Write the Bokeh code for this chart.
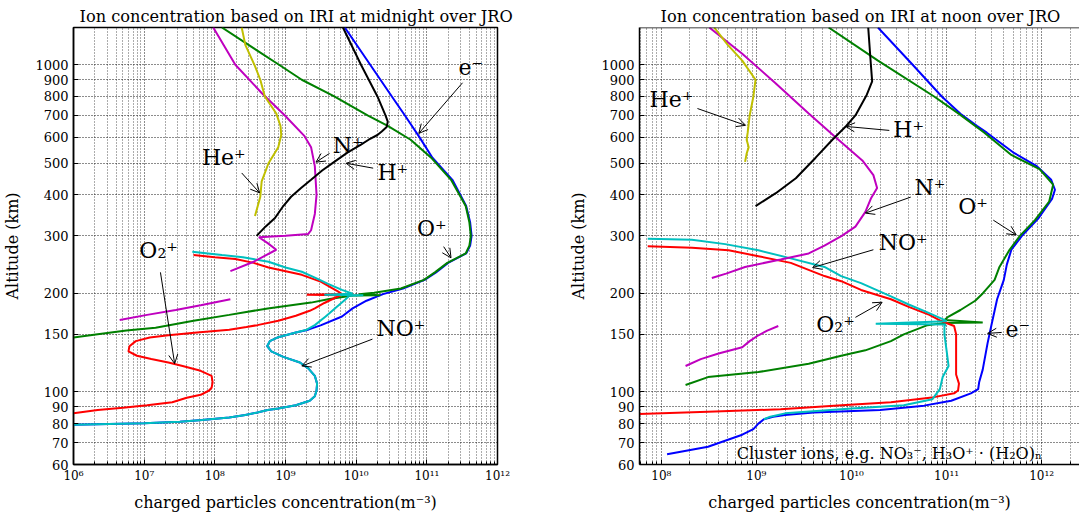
from bokeh.plotting import figure
from bokeh.layouts import row
from bokeh.models import (Range1d, FixedTicker, PrintfTickFormatter, CustomJSTickFormatter,
                          Label, Arrow, OpenHead, Span)
from bokeh.embed import file_html
from bokeh.resources import INLINE

SERIF = "DejaVu Serif"

# ---------------------------------------------------------------- axes ticks
alt_ticks = [60, 70, 80, 90, 100, 150, 200, 300, 400, 500, 600, 700, 800, 900, 1000]
decade_ticks = [1e5, 1e6, 1e7, 1e8, 1e9, 1e10, 1e11, 1e12, 1e13]
minor_ticks = [k * d for d in decade_ticks for k in range(2, 10)]

# ---------------------------------------------------------------- midnight profiles (m^-3 vs km)
mid_e_alt = [1300, 1000, 800, 700, 600, 520, 445, 370, 330, 300, 280, 265, 248, 232, 220, 207,
             199, 190, 180, 170, 160, 155, 152, 147, 143, 138, 133, 128, 123, 118, 112, 106,
             101, 97, 94, 91, 89, 88, 86.5, 85, 83.5, 82, 81, 80.2, 79.8, 79.4]
mid_e_n = [6.9e9, 1.58e10, 3.2e10, 4.9e10, 7.9e10, 1.2e11, 2.3e11, 3.6e11, 4.1e11, 4.3e11,
           4.1e11, 3.6e11, 2.0e11, 1.35e11, 9.3e10, 4.6e10, 2.4e10, 1.4e10, 8.9e9, 6.3e9,
           3.2e9, 2.1e9, 1.4e9, 7.9e8, 6.0e8, 5.5e8, 6.3e8, 9.3e8, 1.6e9, 2.1e9, 2.6e9,
           2.8e9, 2.75e9, 2.6e9, 2.2e9, 1.4e9, 7.9e8, 5.6e8, 4.0e8, 2.7e8, 1.6e8, 6.6e7,
           3.2e7, 1.0e7, 3.2e6, 1.0e6]

mid_op_alt = [1300, 1000, 900, 800, 700, 650, 590, 520, 445, 370, 330, 300, 280, 265, 248, 232,
              220, 207, 201, 199, 197.6, 197, 192, 187.5, 180, 172, 165, 157, 154, 150, 146.6]
mid_op_n = [1.26e8, 8.1e8, 1.7e9, 4.9e9, 1.45e10, 2.8e10, 5.9e10, 1.15e11, 2.2e11, 3.55e11,
            4.0e11, 4.2e11, 4.0e11, 3.55e11, 1.95e11, 1.3e11, 9.1e10, 4.3e10, 1.8e10, 1.1e10,
            2.2e10, 8.9e9, 4.0e9, 2.3e9, 5.6e8, 1.6e8, 5.0e7, 1.45e7, 5.6e6, 2.2e6, 1.0e6]

mid_o2p_alt = [262, 258, 255, 248, 240, 228, 217, 208, 203, 199.2, 198.3, 197.5, 193, 187, 180,
               177, 171, 165, 160, 158, 155, 152, 149, 146.6, 143, 138, 133, 129, 126, 123,
               120, 116, 112, 107, 103, 101, 98, 96, 93, 91, 89.5, 88, 86]
mid_o2p_n = [5.0e7, 1.0e8, 1.95e8, 3.55e8, 5.75e8, 1.7e9, 3.2e9, 4.5e9, 5.5e9, 6.3e9, 2.0e9,
             6.0e9, 4.8e9, 3.55e9, 2.6e9, 2.2e9, 1.4e9, 7.9e8, 4.0e8, 2.8e8, 1.6e8, 5.6e7,
             2.2e7, 1.2e7, 7.6e6, 6.2e6, 6.0e6, 7.9e6, 1.26e7, 2.2e7, 3.5e7, 6.3e7, 9.0e7,
             9.3e7, 9.0e7, 8.3e7, 6.3e7, 4.0e7, 2.5e7, 1.1e7, 5.0e6, 2.2e6, 1.0e6]

mid_nop_alt = [268, 262, 258, 250, 240, 233, 222, 214, 205, 199.5, 198.2, 197.4, 196.5, 192,
               180, 170, 160, 155, 152, 147, 143, 138, 133, 128, 123, 118, 112, 106, 101, 97,
               94, 91, 89, 88, 86.5, 85, 83.5, 82, 81, 80.2, 79.8, 79.4]
mid_nop_n = [4.8e7, 1.26e8, 2.5e8, 5.75e8, 1.0e9, 1.7e9, 2.8e9, 4.0e9, 6.3e9, 8.9e9, 3.55e9,
             1.26e10, 7.9e9, 7.1e9, 5.0e9, 3.7e9, 2.6e9, 2.0e9, 1.4e9, 7.9e8, 6.0e8, 5.5e8,
             6.3e8, 9.3e8, 1.6e9, 2.1e9, 2.6e9, 2.8e9, 2.75e9, 2.6e9, 2.2e9, 1.4e9, 7.9e8,
             5.6e8, 4.0e8, 2.7e8, 1.6e8, 6.6e7, 3.2e7, 1.0e7, 3.2e6, 1.0e6]

mid_np_alt = [1300, 1000, 820, 700, 605, 560, 490, 400, 350, 312, 304, 300, 297, 285, 272, 250, 234]
mid_np_n = [9.5e7, 1.95e8, 4.6e8, 9.8e8, 1.86e9, 2.3e9, 2.6e9, 2.75e9, 2.6e9, 2.3e9, 2.1e9,
            1.0e9, 4.2e8, 5.6e8, 7.4e8, 3.55e8, 1.66e8]
mid_np_low_alt = [166, 172, 178, 184, 192]
mid_np_low_n = [4.5e6, 1.1e7, 2.8e7, 6.3e7, 1.66e8]

mid_hp_alt = [1300, 1000, 800, 700, 670, 645, 625, 610, 590, 570, 540, 505, 475, 445, 420,
              395, 370, 340, 320, 300]
mid_hp_n = [6.5e9, 1.17e10, 2.0e10, 2.6e10, 2.8e10, 2.7e10, 2.3e10, 2.0e10, 1.5e10, 1.17e10,
            7.6e9, 4.9e9, 3.3e9, 2.3e9, 1.66e9, 1.2e9, 9.3e8, 7.1e8, 5.2e8, 3.9e8]

mid_hep_alt = [1300, 1150, 990, 900, 800, 710, 650, 610, 560, 500, 440, 395, 345]
mid_hep_n = [2.4e8, 2.7e8, 3.7e8, 4.4e8, 5.1e8, 7.4e8, 8.5e8, 8.7e8, 7.9e8, 5.75e8, 4.6e8,
             4.4e8, 3.7e8]

# ---------------------------------------------------------------- noon profiles (m^-3 vs km)
noon_e_alt = [1300, 1000, 800, 708, 650, 620, 540, 490, 445, 415, 390, 340, 300, 272, 245, 220,
              192, 159, 141, 117, 107, 102, 99, 94, 90.8, 88, 86.5, 85, 84, 82.5, 80, 77, 74,
              68, 64.5]
noon_e_n = [1.9e10, 4.4e10, 8.9e10, 1.4e11, 2.1e11, 2.65e11, 5.0e11, 8.9e11, 1.26e12, 1.38e12,
            1.29e12, 9.3e11, 6.2e11, 4.8e11, 4.3e11, 4.0e11, 3.4e11, 2.95e11, 2.7e11, 2.4e11,
            2.2e11, 2.15e11, 1.8e11, 1.12e11, 5.8e10, 2.0e10, 4.0e9, 2.0e9, 1.5e9, 1.2e9,
            1.05e9, 9.3e8, 7.1e8, 3.1e8, 1.15e8]

noon_op_alt = [1300, 1030, 800, 708, 620, 530, 480, 430, 382, 335, 300, 272, 241, 220, 200,
               190, 178, 170, 166, 163, 162.3, 160, 150, 143, 134, 129, 122, 115, 111, 105]
noon_op_n = [5.75e9, 1.9e10, 7.4e10, 1.35e11, 2.5e11, 4.8e11, 9.5e11, 1.32e12, 1.2e12, 8.5e11,
             5.9e11, 4.6e11, 3.6e11, 3.2e11, 2.4e11, 2.0e11, 1.4e11, 1.05e11, 9.5e10, 2.4e11,
             9.1e10, 6.3e10, 3.55e10, 2.6e10, 1.4e10, 7.8e9, 3.55e9, 1.05e9, 3.1e8, 1.8e8]

noon_o2p_alt = [279, 276, 271, 260, 248, 226, 218, 205, 192, 182, 172, 165, 159, 150, 134, 113,
                106, 101, 99, 96.4, 93, 91, 88.5, 87, 85.5]
noon_o2p_n = [7.2e7, 2.1e8, 5.1e8, 1.05e9, 2.3e9, 5.2e9, 7.8e9, 1.26e10, 2.6e10, 4.0e10,
              6.6e10, 8.7e10, 1.2e11, 1.26e11, 1.26e11, 1.26e11, 1.35e11, 1.32e11, 1.2e11,
              7.4e10, 2.6e10, 7.9e9, 1.8e9, 3.1e8, 5.0e7]

noon_nop_alt = [294, 292, 283, 271, 256, 241, 226, 215, 196, 185, 175, 167, 164.5, 161.5, 160.8,
                159, 150, 134, 120, 111, 102, 95, 91, 89, 86, 84, 82.5]
noon_nop_n = [7.2e7, 2.1e8, 4.7e8, 1.05e9, 2.3e9, 5.2e9, 7.8e9, 1.26e10, 2.6e10, 4.0e10,
              6.3e10, 9.1e10, 1.0e11, 1.8e10, 9.8e10, 9.5e10, 9.5e10, 1.0e11, 1.05e11, 9.1e10,
              8.5e10, 7.1e10, 3.55e10, 1.0e10, 2.0e9, 1.4e9, 1.2e9]

noon_np_alt = [1300, 1080, 880, 710, 600, 510, 460, 420, 390, 355, 320, 300, 280, 265, 254,
               241, 230, 223]
noon_np_n = [3.2e8, 7.1e8, 1.58e9, 3.55e9, 6.8e9, 1.3e10, 1.7e10, 1.86e10, 1.6e10, 1.4e10,
             1.1e10, 7.9e9, 5.2e9, 3.55e9, 1.8e9, 7.6e8, 4.8e8, 3.4e8]
noon_np_low_alt = [120, 126, 131, 137, 143, 149, 154, 159]
noon_np_low_n = [1.8e8, 2.6e8, 4.0e8, 7.1e8, 8.5e8, 1.05e9, 1.3e9, 1.7e9]

noon_hp_alt = [1300, 1000, 890, 810, 700, 650, 590, 520, 450, 405, 370]
noon_hp_n = [1.5e10, 1.6e10, 1.65e10, 1.45e10, 1.1e10, 8.8e9, 6.3e9, 4.2e9, 2.6e9, 1.6e9, 9.8e8]

noon_hep_alt = [1300, 1150, 1030, 900, 800, 700, 620, 590, 560, 535, 505]
noon_hep_n = [3.6e8, 5.0e8, 7.1e8, 9.8e8, 9.3e8, 8.5e8, 8.1e8, 7.9e8, 8.3e8, 7.9e8, 7.6e8]

# ---------------------------------------------------------------- species labels and pointers
# (text, label x, label y, arrow tail x, tail y, arrow head x, head y)
mid_notes = [
    ("e⁻", 4.2e11, 980, 3.2e11, 881, 7.7e10, 617),
    ("N⁺", 7.7e9, 568, 4.2e9, 536, 2.7e9, 504),
    ("H⁺", 3.3e10, 470, 1.74e10, 483, 7.2e9, 500),
    ("He⁺", 1.34e8, 521, 2.4e8, 467, 4.3e8, 406),
    ("O⁺", 1.18e11, 315, 1.73e11, 278, 2.2e11, 257),
    ("O₂⁺", 1.6e7, 270, 1.7e7, 232, 2.7e7, 122),
    ("NO⁺", 4.3e10, 156, 1.7e10, 145, 1.7e9, 120),
]
noon_notes = [
    ("He⁺", 1.28e8, 784, 2.4e8, 735, 7.7e8, 653),
    ("H⁺", 4.0e10, 634, 2.5e10, 630, 8.7e9, 648),
    ("N⁺", 6.7e10, 423, 4.2e10, 394, 1.4e10, 352),
    ("O⁺", 1.9e11, 368, 3.1e11, 335, 5.4e11, 302),
    ("NO⁺", 3.5e10, 286, 1.7e10, 272, 3.9e9, 240),
    ("O₂⁺", 6.8e9, 161, 1.1e10, 169, 2.1e10, 188),
    ("e⁻", 5.6e11, 155, 3.8e11, 152, 2.7e11, 151),
]
cluster_text = "Cluster ions, e.g. NO₃⁻, H₃O⁺ · (H₂O)ₙ"

BLUE, GREEN, RED, CYAN, MAGENTA, BLACK, YELLOW = (
    "#0000ff", "#008000", "#ff0000", "#00bfbf", "#bf00bf", "#000000", "#bfbf00")

POW_FORMAT = """
const sup = {"0":"\u2070","1":"\u00b9","2":"\u00b2","3":"\u00b3","4":"\u2074",
             "5":"\u2075","6":"\u2076","7":"\u2077","8":"\u2078","9":"\u2079","-":"\u207b"};
const e = Math.round(Math.log10(tick));
return "10" + String(e).split("").map(c => sup[c]).join("");
"""


def make_panel(title, title_offset, x_start, x_end, width, border_left, border_right, closed):
    p = figure(width=width, height=514, x_axis_type="log", y_axis_type="log",
               x_range=Range1d(x_start, x_end), y_range=Range1d(60, 1300),
               output_backend="svg", toolbar_location=None, title=title,
               min_border_left=border_left, min_border_right=border_right,
               min_border_top=27, min_border_bottom=48)
    p.background_fill_color = "white"
    p.border_fill_color = "white"

    p.title.text_font = SERIF
    p.title.text_font_size = "16.2px"
    p.title.text_font_style = "normal"
    p.title.text_color = "black"
    p.title.align = "left"
    p.title.offset = title_offset
    p.title.standoff = 3

    xt = FixedTicker(ticks=decade_ticks, minor_ticks=minor_ticks)
    yt = FixedTicker(ticks=alt_ticks)
    p.xaxis.ticker = xt
    p.xgrid.ticker = xt
    p.yaxis.ticker = yt
    p.ygrid.ticker = yt
    p.xaxis.formatter = CustomJSTickFormatter(code=POW_FORMAT)
    p.yaxis.formatter = PrintfTickFormatter(format="%d")

    for ax in (p.xaxis[0], p.yaxis[0]):
        ax.axis_label_text_font = SERIF
        ax.axis_label_text_font_size = "16px"
        ax.axis_label_text_font_style = "normal"
        ax.axis_label_text_color = "black"
        ax.major_label_text_font = SERIF
        ax.major_label_text_font_size = "13px"
        ax.major_label_text_color = "black"
        ax.axis_line_color = "black"
        ax.axis_line_width = 1.5
        ax.major_tick_line_color = "black"
        ax.major_tick_in = 5
        ax.major_tick_out = 0
        ax.minor_tick_line_color = "black"
        ax.minor_tick_in = 3
        ax.minor_tick_out = 0
        ax.major_label_standoff = 5
    p.yaxis.minor_tick_line_color = None
    p.xaxis.major_label_text_font_size = "12px"
    p.xaxis.major_label_standoff = 4
    p.xaxis.axis_label = "charged particles concentration(m⁻³)"
    p.yaxis.axis_label = "Altitude (km)"
    p.xaxis.axis_label_standoff = 7
    p.yaxis.axis_label_standoff = 10

    p.xgrid.grid_line_color = "black"
    p.xgrid.grid_line_dash = "1 2"
    p.xgrid.grid_line_alpha = 0.9
    p.xgrid.minor_grid_line_color = "black"
    p.xgrid.minor_grid_line_dash = "1 2"
    p.xgrid.minor_grid_line_alpha = 0.65
    p.ygrid.grid_line_color = "black"
    p.ygrid.grid_line_dash = "1 2"
    p.ygrid.grid_line_alpha = 0.9

    if closed:
        p.outline_line_color = "black"
        p.outline_line_width = 1.5
        p.outline_line_alpha = 1.0
    else:
        p.outline_line_color = None
        p.add_layout(Span(location=1300, dimension="width",
                          line_color="black", line_width=1.5))
    return p


def add_profiles(p, series):
    for n, alt, color in series:
        p.line(n, alt, line_color=color, line_width=2)


def add_notes(p, notes):
    for text, lx, ly, x0, y0, x1, y1 in notes:
        p.add_layout(Arrow(end=OpenHead(size=9, line_width=1, line_color="black"),
                           x_start=x0, y_start=y0, x_end=x1, y_end=y1,
                           line_color="black", line_width=1))
        p.add_layout(Label(x=lx, y=ly, text=text, text_font=SERIF, text_font_size="22px",
                           text_align="center", text_baseline="middle", text_color="black"))


left = make_panel("Ion concentration based on IRI at midnight over JRO", 6,
                  1e6, 1e12, 540, 72, 43, True)
add_profiles(left, [
    (mid_e_n, mid_e_alt, BLUE),
    (mid_op_n, mid_op_alt, GREEN),
    (mid_o2p_n, mid_o2p_alt, RED),
    (mid_nop_n, mid_nop_alt, CYAN),
    (mid_np_n, mid_np_alt, MAGENTA),
    (mid_np_low_n, mid_np_low_alt, MAGENTA),
    (mid_hp_n, mid_hp_alt, BLACK),
    (mid_hep_n, mid_hep_alt, YELLOW),
])
add_notes(left, mid_notes)

right = make_panel("Ion concentration based on IRI at noon over JRO", 21,
                   5.9e7, 2.5e12, 539, 99, 0, False)
add_profiles(right, [
    (noon_e_n, noon_e_alt, BLUE),
    (noon_op_n, noon_op_alt, GREEN),
    (noon_o2p_n, noon_o2p_alt, RED),
    (noon_nop_n, noon_nop_alt, CYAN),
    (noon_np_n, noon_np_alt, MAGENTA),
    (noon_np_low_n, noon_np_low_alt, MAGENTA),
    (noon_hp_n, noon_hp_alt, BLACK),
    (noon_hep_n, noon_hep_alt, YELLOW),
])
add_notes(right, noon_notes)
right.add_layout(Label(x=2.5e10, y=64.7, text=cluster_text, text_font=SERIF,
                       text_font_size="16px", text_align="center", text_baseline="middle",
                       text_color="black"))

layout = row(left, right, spacing=0)
open("out.html", "w").write(file_html(layout, INLINE))
